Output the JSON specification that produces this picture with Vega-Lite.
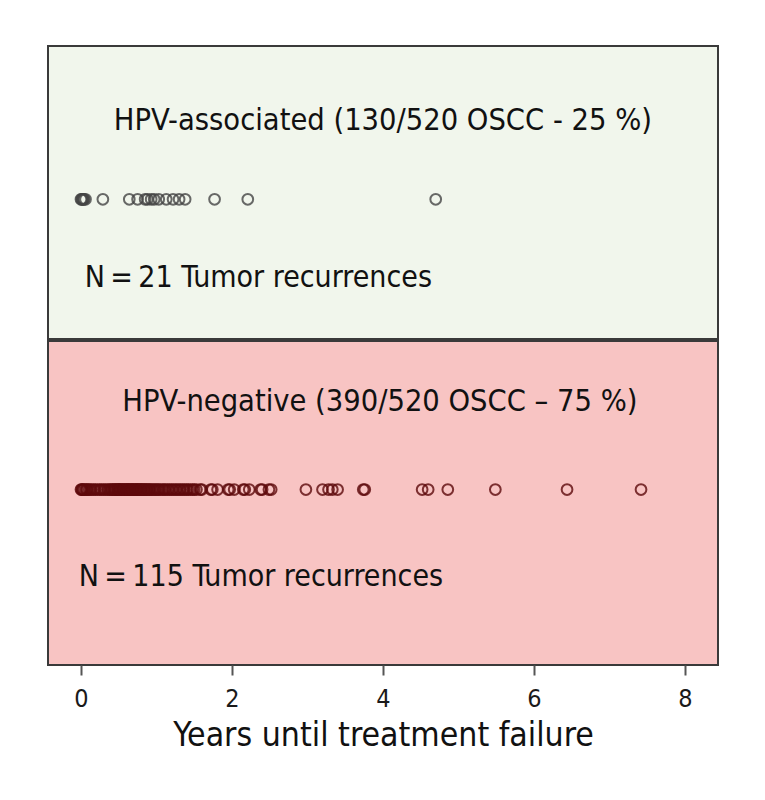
{
  "$schema": "https://vega.github.io/schema/vega-lite/v6.json",
  "background": "white",
  "padding": {"left": 47, "top": 45, "right": 48, "bottom": 10},
  "spacing": 0,
  "datasets": {
    "assoc": [
      {"years": 0.0}, {"years": 0.01}, {"years": 0.02}, {"years": 0.03}, {"years": 0.04}, {"years": 0.06},
      {"years": 0.29}, {"years": 0.64}, {"years": 0.75}, {"years": 0.85}, {"years": 0.88}, {"years": 0.93},
      {"years": 0.97}, {"years": 1.03}, {"years": 1.13}, {"years": 1.22}, {"years": 1.30}, {"years": 1.38},
      {"years": 1.77}, {"years": 2.21}, {"years": 4.70}
    ],
    "neg": [
      {"years": 0.0}, {"years": 0.01}, {"years": 0.02}, {"years": 0.03}, {"years": 0.05}, {"years": 0.07}, {"years": 0.08}, {"years": 0.1}, {"years": 0.12}, {"years": 0.14},
      {"years": 0.17}, {"years": 0.19}, {"years": 0.22}, {"years": 0.25}, {"years": 0.27}, {"years": 0.3}, {"years": 0.32}, {"years": 0.35}, {"years": 0.37}, {"years": 0.39},
      {"years": 0.41}, {"years": 0.42}, {"years": 0.44}, {"years": 0.45}, {"years": 0.46}, {"years": 0.48}, {"years": 0.49}, {"years": 0.5}, {"years": 0.51}, {"years": 0.52},
      {"years": 0.53}, {"years": 0.55}, {"years": 0.56}, {"years": 0.57}, {"years": 0.58}, {"years": 0.6}, {"years": 0.61}, {"years": 0.62}, {"years": 0.63}, {"years": 0.64},
      {"years": 0.66}, {"years": 0.67}, {"years": 0.68}, {"years": 0.69}, {"years": 0.7}, {"years": 0.72}, {"years": 0.73}, {"years": 0.74}, {"years": 0.75}, {"years": 0.76},
      {"years": 0.78}, {"years": 0.79}, {"years": 0.8}, {"years": 0.81}, {"years": 0.83}, {"years": 0.84}, {"years": 0.85}, {"years": 0.87}, {"years": 0.88}, {"years": 0.9},
      {"years": 0.91}, {"years": 0.93}, {"years": 0.95}, {"years": 0.97}, {"years": 0.99},
      {"years": 1.01}, {"years": 1.03}, {"years": 1.05}, {"years": 1.08}, {"years": 1.1}, {"years": 1.12}, {"years": 1.15}, {"years": 1.17}, {"years": 1.2}, {"years": 1.22},
      {"years": 1.25}, {"years": 1.27}, {"years": 1.3}, {"years": 1.32}, {"years": 1.35}, {"years": 1.37}, {"years": 1.4}, {"years": 1.42}, {"years": 1.45}, {"years": 1.48},
      {"years": 1.5}, {"years": 1.53},
      {"years": 1.58}, {"years": 1.6}, {"years": 1.72}, {"years": 1.74}, {"years": 1.81}, {"years": 1.95}, {"years": 1.97}, {"years": 2.03}, {"years": 2.15}, {"years": 2.17},
      {"years": 2.23}, {"years": 2.38}, {"years": 2.4}, {"years": 2.49}, {"years": 2.52},
      {"years": 2.98}, {"years": 3.2}, {"years": 3.28}, {"years": 3.33}, {"years": 3.4}, {"years": 3.74}, {"years": 3.76}, {"years": 4.52}, {"years": 4.6}, {"years": 4.86},
      {"years": 5.49}, {"years": 6.44}, {"years": 7.42}
    ],
    "labels": [
      {"panel": "assoc", "row": "title", "text": "HPV-associated (130/520 OSCC - 25 %)"},
      {"panel": "assoc", "row": "count", "text": "N\u2009=\u200921 Tumor recurrences"},
      {"panel": "neg", "row": "title", "text": "HPV-negative (390/520 OSCC – 75 %)"},
      {"panel": "neg", "row": "count", "text": "N\u2009=\u2009115 Tumor recurrences"}
    ]
  },
  "vconcat": [
    {
      "width": 670,
      "height": 293,
      "view": {"fill": "#f1f6ec", "stroke": "#3a3a3a", "strokeWidth": 2},
      "layer": [
        {
          "data": {"name": "assoc"},
          "mark": {"type": "point", "shape": "circle", "filled": false, "size": 115, "strokeWidth": 2, "color": "#454545", "opacity": 0.8},
          "encoding": {
            "x": {"field": "years", "type": "quantitative", "scale": {"domain": [-0.437, 8.44], "nice": false, "zero": false}, "axis": null},
            "y": {"datum": "points", "type": "nominal", "scale": {"type": "point", "domain": ["title", "points", "count"], "padding": 0.86, "align": 0.55}, "axis": null}
          }
        },
        {
          "data": {"name": "labels"},
          "transform": [{"filter": "datum.panel === 'assoc' && datum.row === 'title'"}],
          "mark": {"type": "text", "align": "center", "baseline": "middle", "font": "Liberation Sans Narrow, DejaVu Sans Condensed, sans-serif", "fontSize": 30.5, "color": "#111111"},
          "encoding": {
            "x": {"datum": 4.0, "type": "quantitative"},
            "y": {"field": "row", "type": "nominal"},
            "text": {"field": "text"}
          }
        },
        {
          "data": {"name": "labels"},
          "transform": [{"filter": "datum.panel === 'assoc' && datum.row === 'count'"}],
          "mark": {"type": "text", "align": "left", "baseline": "middle", "font": "Liberation Sans Narrow, DejaVu Sans Condensed, sans-serif", "fontSize": 30, "color": "#111111"},
          "encoding": {
            "x": {"datum": 0.05, "type": "quantitative"},
            "y": {"field": "row", "type": "nominal"},
            "text": {"field": "text"}
          }
        }
      ]
    },
    {
      "width": 670,
      "height": 324,
      "view": {"fill": "#f8c4c3", "stroke": "#3a3a3a", "strokeWidth": 2},
      "layer": [
        {
          "data": {"name": "neg"},
          "mark": {"type": "point", "shape": "circle", "filled": false, "size": 115, "strokeWidth": 2, "color": "#5e0a0c", "opacity": 0.8},
          "encoding": {
            "x": {"field": "years", "type": "quantitative", "scale": {"domain": [-0.437, 8.44], "nice": false, "zero": false},
              "axis": {"values": [0, 2, 4, 6, 8], "format": "d", "domain": false, "grid": false, "tickSize": 10, "tickWidth": 2, "tickColor": "#555555",
                "labelFont": "Liberation Sans Narrow, DejaVu Sans Condensed, sans-serif", "labelFontSize": 25, "labelColor": "#1a1a1a", "labelPadding": 11,
                "title": "Years until treatment failure", "titleFont": "Liberation Sans Narrow, DejaVu Sans Condensed, sans-serif", "titleFontSize": 33.5, "titleFontWeight": "normal", "titleColor": "#111111", "titlePadding": 8}},
            "y": {"datum": "points", "type": "nominal", "scale": {"type": "point", "domain": ["title", "points", "count"], "padding": 0.86, "align": 0.41}, "axis": null}
          }
        },
        {
          "data": {"name": "labels"},
          "transform": [{"filter": "datum.panel === 'neg' && datum.row === 'title'"}],
          "mark": {"type": "text", "align": "center", "baseline": "middle", "font": "Liberation Sans Narrow, DejaVu Sans Condensed, sans-serif", "fontSize": 30.5, "color": "#111111"},
          "encoding": {
            "x": {"datum": 3.96, "type": "quantitative"},
            "y": {"field": "row", "type": "nominal"},
            "text": {"field": "text"}
          }
        },
        {
          "data": {"name": "labels"},
          "transform": [{"filter": "datum.panel === 'neg' && datum.row === 'count'"}],
          "mark": {"type": "text", "align": "left", "baseline": "middle", "font": "Liberation Sans Narrow, DejaVu Sans Condensed, sans-serif", "fontSize": 30, "color": "#111111"},
          "encoding": {
            "x": {"datum": -0.03, "type": "quantitative"},
            "y": {"field": "row", "type": "nominal"},
            "text": {"field": "text"}
          }
        }
      ]
    }
  ]
}
